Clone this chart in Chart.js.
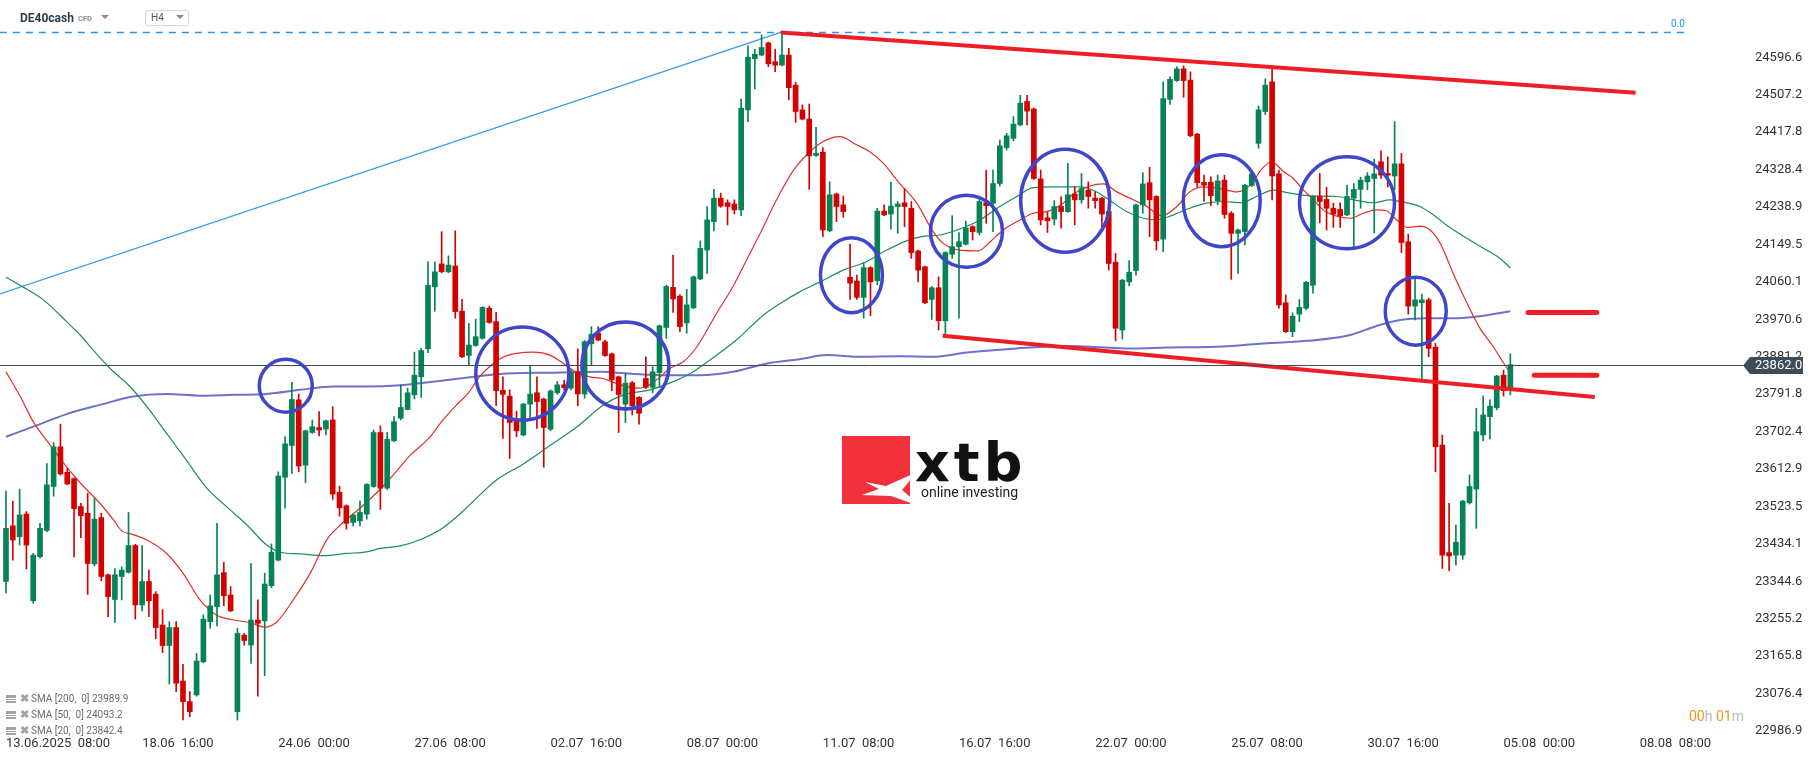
<!DOCTYPE html>
<html>
<head>
<meta charset="utf-8">
<title>DE40cash H4</title>
<script src="https://cdn.jsdelivr.net/npm/chart.js@4.4.1/dist/chart.umd.min.js"></script>
<style>
  html, body { margin: 0; padding: 0; background: #fff; }
  #wrap { position: relative; width: 1815px; height: 761px; overflow: hidden; font-family: Roboto, "Noto Sans", sans-serif; }
  #chartBox { position: absolute; left: 0; top: 0; width: 1815px; height: 761px; }
  .abs { position: absolute; white-space: pre; }
  .sym { left: 20px; top: 11px; font-size: 12px; line-height: 14px; font-weight: bold; color: #2e3b48; }
  .cfd { left: 78px; top: 15px; font-size: 7.5px; line-height: 8px; font-weight: bold; color: #8d8d8d; }
  .caret { width: 0; height: 0; border-left: 4px solid transparent; border-right: 4px solid transparent; border-top: 4px solid #8a8a8a; }
  .tf { left: 145px; top: 10px; width: 42px; height: 14px; border: 1px solid #d8d8d8; border-radius: 2px; }
  .tf span { position: absolute; left: 5px; top: 1px; font-size: 10px; line-height: 12px; color: #555; }
  .fib { left: 1671px; top: 18px; font-size: 10px; line-height: 11px; color: #2196f3; }
  .leg { left: 6px; font-size: 10px; line-height: 12px; color: #6b6b6b; }
  .leg i { display: inline-block; width: 10px; height: 8px; margin-right: 4px; vertical-align: -1px;
           background: linear-gradient(#a3a3a3 0 3px, transparent 3px 4px, #a3a3a3 4px 5px, transparent 5px 6px, #a3a3a3 6px 8px); }
  .leg b { display: inline-block; width: 10px; color: #a3a3a3; font-size: 11px; margin-right: 1px; }
  .timer { left: 1689px; top: 708px; font-size: 14px; line-height: 16px; color: #f7941d; }
  .timer span { color: #b8b8b8; }
  .logoBox { left: 842px; top: 436px; width: 68px; height: 68px; background: #f2313d; }
  .logoTxt { left: 915px; top: 436px; font-family: "DejaVu Sans", sans-serif; font-weight: bold; font-size: 54px; line-height: 54px; letter-spacing: 4px; color: #111; }
  .logoSub { left: 921px; top: 485px; font-size: 14px; line-height: 14px; color: #222; }
</style>
</head>
<body>
<div id="wrap">
  <div id="chartBox"><canvas id="chart"></canvas></div>

  <div class="abs sym">DE40cash</div>
  <div class="abs cfd">CFD</div>
  <div class="abs caret" style="left:101px;top:15px"></div>
  <div class="abs tf"><span>H4</span></div>
  <div class="abs caret" style="left:176px;top:15px"></div>
  <div class="abs fib">0.0</div>

  <div class="abs leg" style="top:693px"><i></i><b>✖</b>SMA [200,  0] 23989.9</div>
  <div class="abs leg" style="top:709px"><i></i><b>✖</b>SMA [50,  0] 24093.2</div>
  <div class="abs leg" style="top:725px"><i></i><b>✖</b>SMA [20,  0] 23842.4</div>

  <div class="abs timer">00<span>h</span> 01<span>m</span></div>

  <div class="abs logoBox">
    <svg width="68" height="68" viewBox="0 0 68 68">
      <polygon points="7,27 28,31 59,17 44,35 64,52 33,41 4,40 21,34" fill="#fff"/>
    </svg>
  </div>
  <div class="abs logoTxt">xtb</div>
  <div class="abs logoSub">online investing</div>
</div>

<script>
// Axis labels
const xTickLabels = ["13.06.2025  08:00", "18.06  16:00", "24.06  00:00", "27.06  08:00", "02.07  16:00",
  "08.07  00:00", "11.07  08:00", "16.07  16:00", "22.07  00:00", "25.07  08:00", "30.07  16:00",
  "05.08  00:00", "08.08  08:00"]
const candlesPerLabel = 20
const yTickValues = [22986.9, 23076.4, 23165.8, 23255.2, 23344.6, 23434.1, 23523.5, 23612.9, 23702.4,
  23791.8, 23881.2, 23970.6, 24060.1, 24149.5, 24238.9, 24328.4, 24417.8, 24507.2, 24596.6]
const lastPrice = 23862.0

// H4 candles
const candleOpen = [
  23344, 23477, 23451, 23505, 23298, 23403, 23466, 23571, 23666, 23605,
  23590, 23523, 23507, 23386, 23497, 23360, 23301, 23356, 23366, 23430,
  23288, 23344, 23314, 23240, 23191, 23234, 23106, 23057, 23073, 23152,
  23248, 23284, 23365, 23312, 23033, 23216, 23192, 23252, 23250, 23334,
  23395, 23593, 23669, 23778, 23622, 23700, 23712, 23708, 23730, 23557,
  23525, 23485, 23489, 23505, 23571, 23700, 23567, 23680, 23734, 23755,
  23790, 23833, 23900, 24048, 24103, 24084, 24098, 23990, 23884, 23908,
  23925, 23997, 23965, 23801, 23787, 23730, 23694, 23768, 23795, 23780,
  23708, 23795, 23814, 23806, 23845, 23792, 23912, 23937, 23917, 23888,
  23833, 23768, 23819, 23784, 23829, 23808, 23843, 23951, 24047, 24026,
  23962, 23998, 24067, 24136, 24204, 24260, 24249, 24246, 24232, 24471,
  24593, 24602, 24631, 24586, 24578, 24602, 24530, 24471, 24449, 24362,
  24370, 24182, 24270, 24244, 24071, 24062, 24023, 24094, 24063, 24229,
  24222, 24240, 24249, 24236, 24134, 24096, 24018, 24046, 23967, 24126,
  24144, 24150, 24192, 24178, 24249, 24248, 24295, 24381, 24403, 24435,
  24491, 24473, 24306, 24213, 24210, 24240, 24228, 24270, 24256, 24279,
  24260, 24260, 24228, 24107, 23945, 24060, 24087, 24244, 24297, 24264,
  24162, 24496, 24541, 24569, 24542, 24413, 24298, 24298, 24254, 24303,
  24224, 24176, 24180, 24290, 24391, 24467, 24538, 24318, 24010, 23941,
  23983, 23997, 24052, 24264, 24257, 24236, 24233, 24220, 24260, 24281,
  24299, 24307, 24347, 24319, 24313, 24342, 24156, 24002, 24010, 24017,
  23904, 23670, 23413, 23407, 23407, 23532, 23565, 23694, 23738, 23759,
  23837, 23802]
const candleHigh = [
  23560, 23536, 23565, 23511, 23411, 23483, 23626, 23676, 23720, 23614,
  23592, 23531, 23555, 23543, 23507, 23362, 23375, 23379, 23509, 23433,
  23430, 23371, 23320, 23277, 23248, 23248, 23146, 23081, 23172, 23264,
  23312, 23483, 23390, 23332, 23232, 23220, 23387, 23300, 23364, 23434,
  23606, 23690, 23820, 23792, 23706, 23730, 23750, 23730, 23762, 23572,
  23527, 23505, 23536, 23578, 23706, 23716, 23700, 23738, 23814, 23806,
  23892, 23901, 24108, 24108, 24180, 24122, 24182, 24018, 23961, 23971,
  24001, 24002, 23987, 23833, 23802, 23751, 23770, 23860, 23833, 23782,
  23802, 23822, 23825, 23849, 23900, 23920, 23953, 23953, 23921, 23890,
  23835, 23841, 23822, 23786, 23881, 23857, 23957, 24052, 24124, 24029,
  24042, 24074, 24158, 24240, 24281, 24272, 24256, 24256, 24497, 24624,
  24616, 24650, 24633, 24616, 24658, 24618, 24537, 24483, 24485, 24429,
  24381, 24299, 24272, 24265, 24150, 24076, 24106, 24096, 24236, 24244,
  24298, 24252, 24283, 24252, 24136, 24098, 24049, 24072, 24132, 24218,
  24178, 24205, 24194, 24258, 24327, 24327, 24399, 24415, 24455, 24506,
  24506, 24475, 24327, 24226, 24254, 24264, 24343, 24287, 24319, 24299,
  24275, 24262, 24230, 24128, 24066, 24111, 24246, 24321, 24334, 24266,
  24538, 24550, 24574, 24576, 24562, 24415, 24315, 24311, 24315, 24315,
  24228, 24186, 24293, 24327, 24480, 24545, 24573, 24327, 24029, 23986,
  24018, 24061, 24266, 24319, 24286, 24248, 24249, 24291, 24295, 24310,
  24321, 24353, 24373, 24359, 24443, 24367, 24174, 24068, 24031, 24021,
  23913, 23694, 23531, 23479, 23538, 23599, 23758, 23787, 23778, 23837,
  23849, 23888]
const candleLow = [
  23317, 23395, 23431, 23374, 23292, 23400, 23463, 23548, 23598, 23575,
  23403, 23449, 23313, 23381, 23346, 23260, 23246, 23300, 23364, 23254,
  23274, 23260, 23207, 23174, 23099, 23081, 23013, 23021, 23070, 23150,
  23232, 23238, 23286, 23272, 23013, 23192, 23148, 23070, 23119, 23329,
  23393, 23519, 23602, 23606, 23580, 23698, 23692, 23694, 23540, 23500,
  23469, 23477, 23477, 23493, 23569, 23516, 23564, 23678, 23730, 23754,
  23780, 23784, 23891, 23990, 24082, 24082, 23973, 23879, 23860, 23906,
  23923, 23961, 23764, 23686, 23638, 23690, 23692, 23734, 23710, 23617,
  23704, 23791, 23802, 23802, 23764, 23782, 23860, 23919, 23882, 23800,
  23700, 23724, 23742, 23720, 23805, 23795, 23808, 23925, 23987, 23941,
  23937, 23996, 24065, 24080, 24182, 24238, 24196, 24222, 24218, 24443,
  24521, 24600, 24574, 24562, 24576, 24495, 24441, 24447, 24281, 24360,
  24168, 24180, 24204, 24214, 24018, 24018, 23973, 23979, 24053, 24218,
  24186, 24176, 24192, 24116, 24060, 24008, 23970, 23945, 23931, 24116,
  23973, 24148, 24160, 24172, 24200, 24180, 24289, 24375, 24397, 24433,
  24435, 24305, 24196, 24178, 24196, 24188, 24226, 24196, 24248, 24236,
  24236, 24192, 24088, 23919, 23923, 24050, 24076, 24224, 24168, 24136,
  24132, 24484, 24539, 24501, 24407, 24287, 24252, 24242, 24244, 24212,
  24066, 24080, 24148, 24288, 24379, 24460, 24256, 23997, 23939, 23929,
  23965, 23993, 24033, 24201, 24184, 24190, 24190, 24218, 24144, 24236,
  24280, 24177, 24307, 24287, 24280, 24130, 23983, 23969, 23824, 23881,
  23606, 23375, 23370, 23383, 23397, 23529, 23471, 23680, 23685, 23754,
  23787, 23790]
const candleClose = [
  23471, 23443, 23503, 23431, 23407, 23471, 23575, 23666, 23601, 23577,
  23518, 23501, 23387, 23493, 23356, 23308, 23360, 23371, 23430, 23288,
  23344, 23298, 23234, 23191, 23234, 23101, 23057, 23033, 23154, 23254,
  23286, 23360, 23310, 23274, 23220, 23203, 23252, 23244, 23338, 23414,
  23596, 23673, 23779, 23620, 23704, 23714, 23706, 23728, 23553, 23520,
  23483, 23503, 23509, 23576, 23700, 23567, 23684, 23726, 23760, 23795,
  23837, 23896, 24052, 24084, 24084, 24100, 23989, 23881, 23909, 23929,
  23999, 23963, 23800, 23791, 23724, 23704, 23768, 23792, 23774, 23712,
  23799, 23814, 23807, 23843, 23792, 23917, 23935, 23921, 23884, 23826,
  23791, 23818, 23764, 23746, 23808, 23845, 23955, 24049, 24019, 23953,
  24005, 24072, 24140, 24208, 24260, 24241, 24240, 24232, 24475, 24597,
  24604, 24620, 24581, 24578, 24602, 24524, 24467, 24449, 24361, 24367,
  24184, 24268, 24240, 24228, 24057, 24023, 24094, 24060, 24229, 24220,
  24241, 24246, 24240, 24130, 24088, 24010, 24046, 23967, 24130, 24144,
  24156, 24189, 24180, 24252, 24242, 24295, 24385, 24409, 24437, 24487,
  24468, 24307, 24208, 24206, 24240, 24228, 24268, 24256, 24283, 24264,
  24254, 24222, 24104, 23949, 24064, 24083, 24244, 24294, 24256, 24158,
  24498, 24544, 24569, 24541, 24409, 24297, 24291, 24266, 24301, 24221,
  24176, 24184, 24291, 24318, 24471, 24530, 24313, 24005, 23941, 23978,
  23999, 24059, 24264, 24252, 24236, 24222, 24218, 24264, 24281, 24303,
  24313, 24318, 24315, 24315, 24342, 24154, 24002, 24017, 24017, 23901,
  23666, 23407, 23405, 23438, 23536, 23571, 23702, 23742, 23763, 23835,
  23800, 23862]

// Moving averages, sampled along the drawn curves: [candle index, value]
const sma20 = [[0, 23845], [2.1, 23786], [4, 23726], [6.5, 23670], [8.9, 23618], [11.4, 23571], [13.8, 23531],
  [15.8, 23491], [17, 23465], [18.7, 23456], [20.7, 23443], [23.6, 23411], [26, 23364], [28.5, 23300],
  [30.9, 23264], [33.4, 23252], [35.8, 23246], [38, 23235], [39.8, 23248], [42.2, 23300], [44.7, 23364],
  [47.1, 23443], [49.1, 23479], [52, 23519], [55, 23565], [57.5, 23610], [59.4, 23646], [62, 23684],
  [64.2, 23730], [66.2, 23766], [67.9, 23794], [69.6, 23834], [71.6, 23865], [73, 23880], [75, 23889],
  [77.5, 23892], [79.9, 23885], [81.9, 23865], [83.8, 23843], [85.8, 23833], [87.7, 23829], [89.7, 23817],
  [91.7, 23808], [93.1, 23806], [95.6, 23826], [97.5, 23853], [99.5, 23869], [101.5, 23905], [104.4, 23985],
  [106.8, 24049], [108.8, 24112], [110.8, 24176], [113.2, 24256], [115.7, 24327], [118.1, 24371],
  [120, 24395], [122.5, 24407], [125, 24387], [126.9, 24371], [128.9, 24343], [131.3, 24295], [133.8, 24248],
  [136.2, 24180], [137.7, 24152], [140.1, 24136], [142.8, 24134], [144.6, 24156], [146.5, 24184],
  [149, 24208], [150.9, 24224], [152.9, 24228], [155.3, 24248], [156.8, 24270], [159.2, 24289],
  [161.2, 24294], [163.2, 24275], [165.6, 24256], [167.6, 24240], [169.8, 24218], [172, 24240],
  [173.9, 24275], [175.9, 24287], [178.4, 24283], [180.8, 24275], [182.8, 24291], [184.5, 24330],
  [185.9, 24347], [187.7, 24323], [189.1, 24307], [190.6, 24279], [192.1, 24256], [193.5, 24232],
  [195.5, 24217], [197.5, 24212], [199.4, 24224], [201.4, 24232], [202.8, 24230], [204.3, 24208],
  [205.8, 24190], [207.7, 24193], [209.2, 24184], [210.7, 24152], [212.6, 24080], [214.6, 24010],
  [216.5, 23950], [218.5, 23905], [220, 23866], [221, 23842]]
const sma50 = [[0, 24071], [2.5, 24048], [5.5, 24017], [8.9, 23965], [10.9, 23933], [12.8, 23897],
  [15.3, 23853], [18.2, 23810], [20.7, 23762], [23.6, 23698], [26.5, 23634], [29.5, 23567], [32.4, 23523],
  [35.4, 23479], [38.3, 23431], [40.3, 23414], [43.2, 23410], [46.6, 23406], [50.1, 23411], [53, 23415],
  [55, 23423], [57.9, 23429], [61, 23445], [64, 23470], [67, 23510], [70, 23557], [72.1, 23587],
  [76, 23625], [80, 23670], [84, 23715], [87.7, 23765], [90.7, 23790], [94.6, 23802], [97.5, 23818],
  [100.5, 23841], [103.4, 23873], [107.3, 23921], [111.3, 23981], [114.2, 24013], [116.6, 24036],
  [119.6, 24060], [123, 24088], [126.4, 24108], [129.4, 24136], [132.3, 24158], [134.5, 24168],
  [137.2, 24172], [139.7, 24184], [143.1, 24208], [146, 24240], [148.5, 24264], [150.9, 24285],
  [153.9, 24287], [157.8, 24287], [159.7, 24279], [161.7, 24260], [164.6, 24228], [167.1, 24212],
  [169, 24208], [171.5, 24220], [173.9, 24236], [176.4, 24248], [178.8, 24252], [181.5, 24249],
  [183.7, 24264], [186.2, 24279], [188.6, 24272], [192.1, 24265], [195.5, 24264], [198, 24256],
  [200.9, 24249], [203.3, 24256], [204.8, 24252], [207.7, 24240], [209.7, 24220], [211.6, 24196],
  [214.6, 24164], [217.5, 24136], [219.5, 24116], [221, 24093]]
const sma200 = [[0, 23690], [4, 23714], [8.9, 23744], [13.8, 23766], [18.7, 23786], [23.6, 23792],
  [28.5, 23788], [33.4, 23790], [38.3, 23792], [43.2, 23802], [48.1, 23810], [53, 23810], [57.9, 23813],
  [65.2, 23826], [72.6, 23840], [79.9, 23843], [87.3, 23845], [92.2, 23840], [97.1, 23837], [102, 23837],
  [106.8, 23845], [111.8, 23865], [116.6, 23875], [120.6, 23885], [125.5, 23881], [131.3, 23882],
  [136.2, 23881], [141.1, 23891], [148.5, 23901], [155.8, 23907], [165.6, 23901], [170.5, 23903],
  [177.9, 23905], [184.2, 23912], [191.1, 23919], [197, 23931], [201.8, 23957], [204.8, 23969],
  [208.7, 23973], [212.6, 23973], [216.5, 23978], [221, 23990]]

// Drawing tools: [candle index, price]
const fibZeroLine = [[-0.9, 24656], [247.4, 24656]]
const fibRay = [[-0.9, 24031], [113.8, 24656]]
const upperTrend = [[113.8, 24656], [239.4, 24512]]
const lowerTrend = [[137.6, 23931], [233.4, 23785]]
const levelUpper = [[223.6, 23987], [233.7, 23987]]
const levelLower = [[224.5, 23837], [233.7, 23837]]
const circleMarks = [[41.1, 23812], [75.85, 23841], [91.0, 23860], [124.2, 24076], [141.1, 24181],
  [155.6, 24254], [178.6, 24254], [197.0, 24249], [207.1, 23990]]
// ellipse radii in px (style)
const circleRadii = [[26.5, 26.5], [46.5, 46.5], [43.5, 43.5], [31, 37.5], [36, 36], [44.5, 51.5],
  [38.5, 46], [47.5, 46], [30.5, 34]]

const UP = "#068356"
const DOWN = "#d50000"

Chart.defaults.font.family = "Roboto, 'Noto Sans', sans-serif"

function lineSet(points, color, width, order, extra) {
  return Object.assign({
    type: "line",
    data: points.map(([x, y]) => ({ x, y })),
    borderColor: color,
    borderWidth: width,
    pointRadius: 0,
    fill: false,
    order,
  }, extra || {})
}

const overlayPlugin = {
  id: "overlay",
  afterDatasetsDraw(chart) {
    const { ctx, chartArea, scales: { x, y } } = chart
    ctx.save()
    // last price line
    const py = Math.round(y.getPixelForValue(lastPrice)) + 0.5
    ctx.strokeStyle = "#3b4a55"
    ctx.lineWidth = 1
    ctx.beginPath()
    ctx.moveTo(0, py)
    ctx.lineTo(chartArea.right - 2, py)
    ctx.stroke()
    // highlighted zones
    ctx.strokeStyle = "#3f46c8"
    ctx.lineWidth = 3.5
    circleMarks.forEach(([cx, cy], i) => {
      const [rx, ry] = circleRadii[i]
      ctx.beginPath()
      ctx.ellipse(x.getPixelForValue(cx), y.getPixelForValue(cy), rx, ry, 0, 0, Math.PI * 2)
      ctx.stroke()
    })
    ctx.restore()
  },
  afterDraw(chart) {
    const { ctx, chartArea, scales: { y } } = chart
    const py = Math.round(y.getPixelForValue(lastPrice)) + 0.5
    const left = chartArea.right - 2
    ctx.save()
    ctx.fillStyle = "#3d4c57"
    ctx.beginPath()
    ctx.moveTo(left, py)
    ctx.lineTo(left + 7, py - 8.5)
    ctx.lineTo(left + 60, py - 8.5)
    ctx.lineTo(left + 60, py + 8.5)
    ctx.lineTo(left + 7, py + 8.5)
    ctx.closePath()
    ctx.fill()
    ctx.fillStyle = "#fff"
    ctx.font = "13px Roboto"
    ctx.textBaseline = "middle"
    ctx.fillText(lastPrice.toFixed(1), left + 12, py + 0.5)
    ctx.restore()
  },
}

const wicks = {
  type: "bar",
  data: candleOpen.map((o, i) => ({ x: i, y: [candleLow[i], candleHigh[i]] })),
  backgroundColor: candleOpen.map((o, i) => (candleClose[i] >= o ? UP : DOWN)),
  barThickness: 1,
  minBarLength: 1,
  grouped: false,
  order: 3,
}
const bodies = {
  type: "bar",
  data: candleOpen.map((o, i) => ({ x: i, y: [o, candleClose[i]] })),
  backgroundColor: candleOpen.map((o, i) => (candleClose[i] >= o ? UP : DOWN)),
  barThickness: 5,
  minBarLength: 1,
  grouped: false,
  order: 2,
}

new Chart(document.getElementById("chart"), {
  type: "bar",
  data: {
    datasets: [
      lineSet(upperTrend, "#ee1d26", 4, 0),
      lineSet(lowerTrend, "#ee1d26", 4, 0),
      lineSet(levelUpper, "#ee1d26", 5, 0, { borderCapStyle: "round" }),
      lineSet(levelLower, "#ee1d26", 5, 0, { borderCapStyle: "round" }),
      bodies,
      wicks,
      lineSet(sma20, "#e0302c", 1.2, 4, { cubicInterpolationMode: "monotone" }),
      lineSet(sma50, "#1d8c5c", 1.2, 4, { cubicInterpolationMode: "monotone" }),
      lineSet(sma200, "#6e71c8", 2, 5, { cubicInterpolationMode: "monotone" }),
      lineSet(fibRay, "#2f9cf0", 1.3, 6),
      lineSet(fibZeroLine, "#2196f3", 1.5, 6, { borderDash: [7, 6] }),
    ],
  },
  options: {
    responsive: true,
    maintainAspectRatio: false,
    animation: false,
    devicePixelRatio: 1,
    events: [],
    layout: { padding: 0 },
    plugins: { legend: { display: false }, tooltip: { enabled: false } },
    scales: {
      x: {
        type: "linear",
        position: "bottom",
        min: -0.88,
        max: 255.47,
        offset: false,
        grid: { display: false, drawTicks: false },
        border: { display: false },
        afterFit: (s) => { s.height = 28; s.paddingLeft = 0; s.paddingRight = 0 },
        afterBuildTicks: (s) => { s.ticks = xTickLabels.map((_, i) => ({ value: i * candlesPerLabel })) },
        ticks: {
          autoSkip: false,
          maxRotation: 0,
          align: "start",
          padding: 3,
          color: "#333",
          font: { size: 13 },
          callback: (v, i) => xTickLabels[i],
        },
      },
      y: {
        type: "linear",
        position: "right",
        min: 22982.0,
        max: 24733.5,
        beginAtZero: false,
        grid: { display: false, drawTicks: false },
        border: { display: false },
        afterFit: (s) => { s.width = 70; s.paddingTop = 0; s.paddingBottom = 0 },
        afterBuildTicks: (s) => { s.ticks = yTickValues.map((v) => ({ value: v })) },
        ticks: {
          padding: 10,
          color: "#333",
          font: { size: 13 },
          callback: (v) => v.toFixed(1),
        },
      },
    },
  },
  plugins: [overlayPlugin],
})
</script>
</body>
</html>
